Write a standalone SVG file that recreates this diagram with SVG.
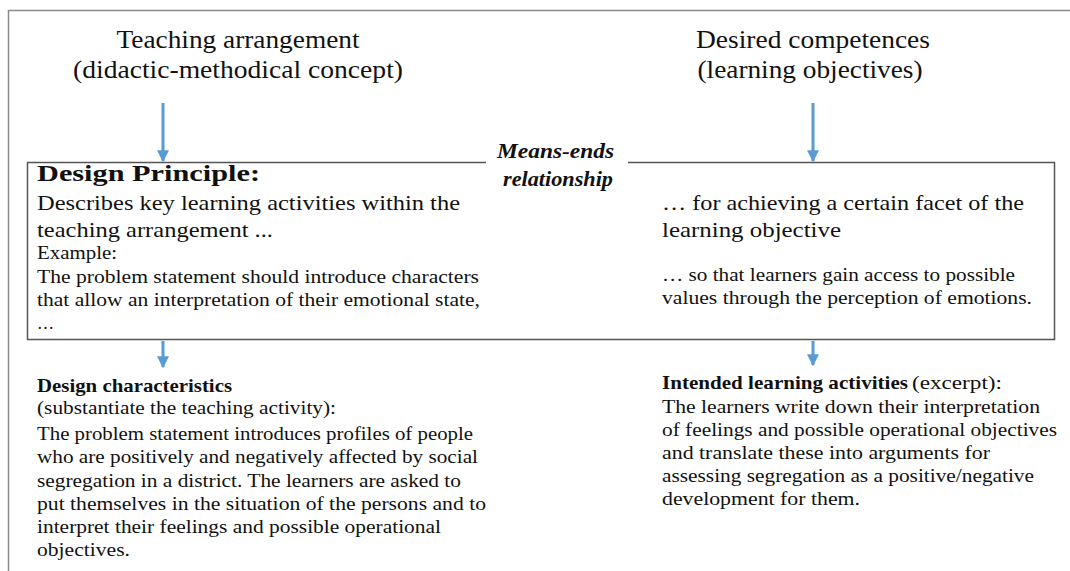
<svg xmlns="http://www.w3.org/2000/svg" width="1070" height="571" viewBox="0 0 1070 571">
<style>
  text { font-family: "Liberation Serif", "DejaVu Serif", serif; fill: #111; }
  .title { font-size: 25px; text-anchor: middle; }
  .mid { font-size: 21px; }
  .small { font-size: 19px; }
  .b { font-weight: bold; }
  .rel { font-size: 20px; font-weight: bold; font-style: italic; }
  .frame { fill: none; stroke: #8a8a8a; stroke-width: 1.5; }
  .box { fill: none; stroke: #555; stroke-width: 1.5; }
  .arrow { stroke: #5b9bd5; stroke-width: 3; fill: none; }
</style>
<defs>
  <marker id="ah" viewBox="0 0 10 10" refX="9" refY="5" markerWidth="4" markerHeight="4" orient="auto" markerUnits="strokeWidth">
    <path d="M0,0 L10,5 L0,10 Z" fill="#5b9bd5"/>
  </marker>
</defs>
<rect width="1070" height="571" fill="#fff"/>
<path class="frame" d="M8.5,571 L8.5,10.5 L1070,10.5"/>

<g id="teaching-arrangement">
  <text class="title" x="238" y="48" textLength="243" lengthAdjust="spacingAndGlyphs">Teaching arrangement</text>
  <text class="title" x="238" y="78" textLength="330" lengthAdjust="spacingAndGlyphs">(didactic-methodical concept)</text>
</g>

<g id="desired-competences">
  <text class="title" x="813" y="48" textLength="234" lengthAdjust="spacingAndGlyphs">Desired competences</text>
  <text class="title" x="810" y="78" textLength="225" lengthAdjust="spacingAndGlyphs">(learning objectives)</text>
</g>

<g id="design-principle-box">
  <path class="box" d="M486,162.5 L27.5,162.5 L27.5,339.5 L1054.5,339.5 L1054.5,162.5 L628,162.5"/>
  <text class="b" x="37" y="181" font-size="23" textLength="223" lengthAdjust="spacingAndGlyphs">Design Principle:</text>
  <text class="mid" x="37" y="210" textLength="423" lengthAdjust="spacingAndGlyphs">Describes key learning activities within the</text>
  <text class="mid" x="37" y="237" textLength="236" lengthAdjust="spacingAndGlyphs">teaching arrangement ...</text>
  <text class="small" x="37" y="259" textLength="80" lengthAdjust="spacingAndGlyphs">Example:</text>
  <text class="small" x="37" y="283" textLength="442" lengthAdjust="spacingAndGlyphs">The problem statement should introduce characters</text>
  <text class="small" x="37" y="306" textLength="443" lengthAdjust="spacingAndGlyphs">that allow an interpretation of their emotional state,</text>
  <text class="small" x="37" y="329" textLength="17" lengthAdjust="spacingAndGlyphs">…</text>
  <text class="mid" x="662" y="210" textLength="362" lengthAdjust="spacingAndGlyphs">… for achieving a certain facet of the</text>
  <text class="mid" x="662" y="237" textLength="179" lengthAdjust="spacingAndGlyphs">learning objective</text>
  <text class="small" x="662" y="281" textLength="353" lengthAdjust="spacingAndGlyphs">… so that learners gain access to possible</text>
  <text class="small" x="662" y="304" textLength="370" lengthAdjust="spacingAndGlyphs">values through the perception of emotions.</text>
</g>

<g id="means-ends">
  <text class="rel" x="497" y="158" textLength="117" lengthAdjust="spacingAndGlyphs">Means-ends</text>
  <text class="rel" x="503" y="186" textLength="110" lengthAdjust="spacingAndGlyphs">relationship</text>
</g>

<g id="design-characteristics">
  <text class="small b" x="37" y="392" textLength="195" lengthAdjust="spacingAndGlyphs">Design characteristics</text>
  <text class="small" x="37" y="414" textLength="299" lengthAdjust="spacingAndGlyphs">(substantiate the teaching activity):</text>
  <text class="small" x="37" y="440" textLength="436" lengthAdjust="spacingAndGlyphs">The problem statement introduces profiles of people</text>
  <text class="small" x="37" y="463" textLength="441" lengthAdjust="spacingAndGlyphs">who are positively and negatively affected by social</text>
  <text class="small" x="37" y="487" textLength="424" lengthAdjust="spacingAndGlyphs">segregation in a district.  The learners are asked to</text>
  <text class="small" x="37" y="510" textLength="449" lengthAdjust="spacingAndGlyphs">put themselves in the situation of the persons and to</text>
  <text class="small" x="37" y="533" textLength="404" lengthAdjust="spacingAndGlyphs">interpret their feelings and possible operational</text>
  <text class="small" x="37" y="556" textLength="93" lengthAdjust="spacingAndGlyphs">objectives.</text>
</g>

<g id="intended-learning-activities">
  <text class="small b" x="662" y="389" textLength="246" lengthAdjust="spacingAndGlyphs">Intended learning activities</text>
  <text class="small" x="912" y="389" textLength="90" lengthAdjust="spacingAndGlyphs">(excerpt):</text>
  <text class="small" x="662" y="413" textLength="378" lengthAdjust="spacingAndGlyphs">The learners write down their interpretation</text>
  <text class="small" x="662" y="436" textLength="395" lengthAdjust="spacingAndGlyphs">of feelings and possible operational objectives</text>
  <text class="small" x="662" y="459" textLength="328" lengthAdjust="spacingAndGlyphs">and translate these into arguments for</text>
  <text class="small" x="662" y="482" textLength="372" lengthAdjust="spacingAndGlyphs">assessing segregation as a positive/negative</text>
  <text class="small" x="662" y="505" textLength="198" lengthAdjust="spacingAndGlyphs">development for them.</text>
</g>

<g id="connectors">
  <line class="arrow" x1="163" y1="103" x2="163" y2="161" marker-end="url(#ah)"/>
  <line class="arrow" x1="813" y1="103" x2="813" y2="161" marker-end="url(#ah)"/>
  <line class="arrow" x1="163" y1="341" x2="163" y2="367" marker-end="url(#ah)"/>
  <line class="arrow" x1="813" y1="341" x2="813" y2="365" marker-end="url(#ah)"/>
</g>
</svg>
